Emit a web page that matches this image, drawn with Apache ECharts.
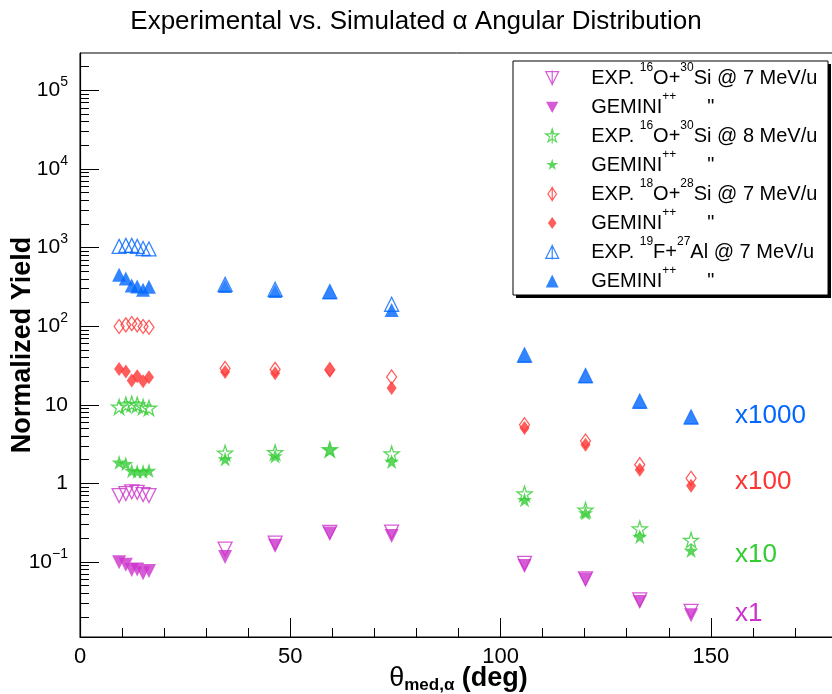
<!DOCTYPE html>
<html><head><meta charset="utf-8">
<script src="https://cdn.jsdelivr.net/npm/echarts@6/dist/echarts.min.js"></script>
<style>html,body{margin:0;padding:0;background:#fff}#c{width:832px;height:694px}</style>
</head><body><div id="c"></div>
<script>
// ---- data (plotted values, already multiplied by the scale factors) ----
const angles = [9.3, 10.9, 12.3, 13.6, 15.0, 16.4, 34.5, 46.4, 59.4, 74.1, 105.7, 120.2, 133.1, 145.3];
const expO16Si30_7 = [0.70, 0.74, 0.78, 0.77, 0.72, 0.70, 0.146, 0.174, 0.238, 0.24, 0.096, 0.061, 0.033, 0.0235];
const gemO16Si30_7 = [0.099, 0.092, 0.079, 0.080, 0.072, 0.077, 0.116, 0.161, 0.231, 0.214, 0.089, 0.060, 0.031, 0.021];
const expO16Si30_8 = [9.4, 10.0, 10.3, 10.0, 9.4, 9.1, 2.44, 2.48, 2.7, 2.39, 0.74, 0.46, 0.265, 0.19];
const gemO16Si30_8 = [1.85, 1.78, 1.45, 1.42, 1.42, 1.46, 2.04, 2.23, 2.68, 1.9, 0.62, 0.42, 0.21, 0.14];
const expO18Si28_7 = [99, 104, 108, 104, 99, 97, 29, 28.2, 28, 22.6, 5.58, 3.46, 1.73, 1.16];
const gemO18Si28_7 = [28.5, 26.5, 20.4, 23, 19.9, 22.4, 26.1, 25.1, 27.4, 16.4, 5.07, 3.1, 1.49, 0.93];
const expF19Al27_7 = [1036, 1067, 1066, 1036, 973, 960, 340, 295, 275, 190, 43, 23.5, 11.1, 7.0];
const gemF19Al27_7 = [452, 404, 330, 320, 291, 318, 325, 280, 271, 161, 42, 23, 10.9, 6.9];

const yMajorTicks = [0.1, 1, 10, 100, 1000, 10000, 100000];
const xMajorTicks = [0, 50, 100, 150];
const xMinorTicks = [10, 20, 30, 40, 60, 70, 80, 90, 110, 120, 130, 140, 160, 170];
const scaleLabels = ['x1000', 'x100', 'x10', 'x1'];

const Y_MIN = 0.0111, Y_MAX = 2.99e5, X_MIN = 0, X_MAX = 180;
const yMinorTicks = [];
for (let e = -2; e <= 5; e++) for (let m = 2; m <= 9; m++) {
  const v = +(m * Math.pow(10, e)).toPrecision(6);
  if (v > Y_MIN && v < Y_MAX) yMinorTicks.push(v);
}

const MAG = '#cc33cc', GRN = '#33cc33', RED = '#ff3333', BLU = '#0066ff';
const FONT = 'Liberation Sans, Arial, Helvetica, sans-serif';

const STAR = 'path://M50,0 L61.17,34.63 L97.55,34.55 L68.07,55.87 L79.39,90.45 L50,69 L20.61,90.45 L31.93,55.87 L2.45,34.55 L38.83,34.63 Z';
const TRI_DOWN = 'path://M0,0 L10,0 L5,10 Z';

function starPts(s, cx, cy) {
  const pts = [[50,0],[61.17,34.63],[97.55,34.55],[68.07,55.87],[79.39,90.45],[50,69],[20.61,90.45],[31.93,55.87],[2.45,34.55],[38.83,34.63]];
  return pts.map((p, i) => (i ? 'L' : 'M') + (cx + (p[0]-50)*s).toFixed(2) + ',' + (cy + (p[1]-50)*s).toFixed(2)).join(' ') + ' Z';
}

const names = ['e1','g1','e2','g2','e3','g3','e4','g4'];
const legendText = {
  e1: 'EXP. {s|16}O+{s|30}Si @ 7 MeV/u',
  g1: 'GEMINI{s|++}{q|"}',
  e2: 'EXP. {s|16}O+{s|30}Si @ 8 MeV/u',
  g2: 'GEMINI{s|++}{q|"}',
  e3: 'EXP. {s|18}O+{s|28}Si @ 7 MeV/u',
  g3: 'GEMINI{s|++}{q|"}',
  e4: 'EXP. {s|19}F+{s|27}Al @ 7 MeV/u',
  g4: 'GEMINI{s|++}{q|"}'
};
const legendIcons = {
  e1: 'path://M0,1 L12,1 L6,13 Z M6,0 L6,14',
  g1: 'path://M6,0 L6,0 M0,2 L11.5,2 L5.75,12.5 Z M6,14 L6,14',
  e2: 'path://' + starPts(0.13, 6.5, 7) + ' M6.5,0 L6.5,14',
  g2: 'path://M6,0 L6,0 ' + starPts(0.115, 6, 7) + ' M6,14 L6,14',
  e3: 'path://M4,1 L8,7 L4,13 L0,7 Z M4,0 L4,14',
  g3: 'path://M4,0 L4,0 M4,1.5 L8,7 L4,12.5 L0,7 Z M4,14 L4,14',
  e4: 'path://M0,13 L12,13 L6,1 Z M6,0 L6,14',
  g4: 'path://M6,0 L6,0 M0,13 L12,13 L6,1 Z M6,14 L6,14'
};

function mk(name, vals, color, symbol, size, open) {
  return {
    name, type: 'scatter', data: angles.map((a, i) => [a, vals[i]]),
    symbol, symbolSize: size, silent: true,
    itemStyle: open ? { color: 'rgba(0,0,0,0)', borderColor: color, borderWidth: 1.3 } : { color: color, borderWidth: 0 },
    emphasis: { disabled: true }
  };
}
const series = [
  mk('e1', expO16Si30_7, MAG, TRI_DOWN, [14, 14], true),
  mk('g1', gemO16Si30_7, MAG, TRI_DOWN, [14, 14], false),
  mk('e2', expO16Si30_8, GRN, STAR, [15, 15], true),
  mk('g2', gemO16Si30_8, GRN, STAR, [15, 15], false),
  mk('e3', expO18Si28_7, RED, 'diamond', [10, 14], true),
  mk('g3', gemO18Si28_7, RED, 'diamond', [10, 14], false),
  mk('e4', expF19Al27_7, BLU, 'triangle', [14, 14], true),
  mk('g4', gemF19Al27_7, BLU, 'triangle', [14, 14], false)
];
const colorOf = { e1: MAG, g1: MAG, e2: GRN, g2: GRN, e3: RED, g3: RED, e4: BLU, g4: BLU };

function fmtY(v) {
  const e = Math.round(Math.log10(v));
  if (e === 0) return '1';
  if (e === 1) return '10';
  return '{b|10}{s|' + (e < 0 ? '\u2212' + (-e) : e) + '}';
}

const annColors = [BLU, RED, GRN, MAG];
const annY = [416, 482, 555, 614];

function tickAxis(type, min, max, pos, values, len) {
  const a = {
    type, min, max, position: pos,
    axisLine: { show: false },
    axisTick: { show: true, inside: true, length: len, customValues: values, lineStyle: { color: '#000', width: 1 } },
    axisLabel: { show: false }, splitLine: { show: false }
  };
  if (type === 'log') a.logBase = 10;
  return a;
}

const chart = echarts.init(document.getElementById('c'), null, { renderer: 'canvas' });
chart.setOption({
  animation: false,
  backgroundColor: '#fff',
  title: {
    text: 'Experimental vs. Simulated α Angular Distribution',
    left: 'center', top: 4,
    textStyle: { fontFamily: FONT, fontSize: 26, fontWeight: 'normal', color: '#000' }
  },
  grid: { left: 80, top: 53, width: 757, height: 584, show: true, borderColor: '#000', borderWidth: 1, backgroundColor: 'rgba(0,0,0,0)', outerBoundsMode: 'none' },
  xAxis: [{
    type: 'value', min: X_MIN, max: X_MAX, position: 'bottom',
    axisLine: { show: true, lineStyle: { color: '#000', width: 1.2 } },
    axisTick: { show: false },
    axisLabel: { show: true, customValues: xMajorTicks, margin: 9, fontFamily: FONT, fontSize: 22, color: '#000' },
    splitLine: { show: false },
    name: '{t|θ}{sub|med,α} {b|(deg)}', nameLocation: 'middle', nameGap: 27, nameMoveOverlap: false,
    nameTextStyle: {
      fontFamily: FONT, color: '#000', fontSize: 27,
      rich: {
        t: { fontFamily: FONT, fontSize: 27, lineHeight: 30, color: '#000' },
        sub: { fontFamily: FONT, fontSize: 17, fontWeight: 'bold', lineHeight: 12, padding: [15, 0, 3, 0], color: '#000' },
        b: { fontFamily: FONT, fontSize: 27, fontWeight: 'bold', lineHeight: 30, color: '#000' }
      }
    }
  },
    tickAxis('value', X_MIN, X_MAX, 'bottom', xMinorTicks, 9),
    tickAxis('value', X_MIN, X_MAX, 'bottom', xMajorTicks, 19)
  ],
  yAxis: [{
    type: 'log', logBase: 10, min: Y_MIN, max: Y_MAX, position: 'left',
    axisLine: { show: true, lineStyle: { color: '#000', width: 1.2 } },
    axisTick: { show: false },
    axisLabel: {
      show: true, customValues: yMajorTicks, margin: 12, formatter: fmtY,
      fontFamily: FONT, fontSize: 21, lineHeight: 24, color: '#000',
      rich: {
        b: { fontFamily: FONT, fontSize: 21, lineHeight: 24, color: '#000' },
        s: { fontFamily: FONT, fontSize: 14, lineHeight: 8, padding: [0, 0, 16, 0], color: '#000' }
      }
    },
    splitLine: { show: false },
    name: 'Normalized Yield', nameLocation: 'middle', nameGap: 44, nameRotate: 90, nameMoveOverlap: false,
    nameTextStyle: { fontFamily: FONT, fontSize: 27, fontWeight: 'bold', color: '#000' }
  },
    tickAxis('log', Y_MIN, Y_MAX, 'left', yMinorTicks, 9),
    tickAxis('log', Y_MIN, Y_MAX, 'left', yMajorTicks, 19)
  ],
  legend: {
    orient: 'vertical', align: 'left', left: 545, top: 62, padding: 0, itemGap: -3,
    itemWidth: 68, itemHeight: 15, selectedMode: false, z: 10,
    data: names.map(n => ({
      name: n, icon: legendIcons[n],
      itemStyle: n[0] === 'e' ? { color: 'rgba(0,0,0,0)', borderColor: colorOf[n], borderWidth: 1.2 } : { color: colorOf[n], borderWidth: 0 }
    })),
    formatter: n => legendText[n],
    textStyle: {
      fontFamily: FONT, fontSize: 20, lineHeight: 29, color: '#000',
      rich: {
        s: { fontFamily: FONT, fontSize: 12, lineHeight: 8, padding: [0, 0, 20, 0], color: '#000' },
        q: { fontFamily: FONT, fontSize: 20, lineHeight: 29, padding: [0, 0, 0, 31], color: '#000' }
      }
    }
  },
  graphic: [
    { type: 'rect', silent: true, z: 1, shape: { x: 516, y: 64, width: 315, height: 234 }, style: { fill: '#000' } },
    { type: 'rect', silent: true, z: 2, shape: { x: 513, y: 61, width: 315, height: 234 }, style: { fill: '#fff', stroke: '#000', lineWidth: 1 } }
  ].concat(scaleLabels.map((t, i) => ({
    type: 'text', silent: true, z: 5,
    style: { text: t, x: 735, y: annY[i], fill: annColors[i], fontFamily: FONT, fontSize: 26, verticalAlign: 'middle', align: 'left' }
  }))),
  series
});
</script></body></html>
